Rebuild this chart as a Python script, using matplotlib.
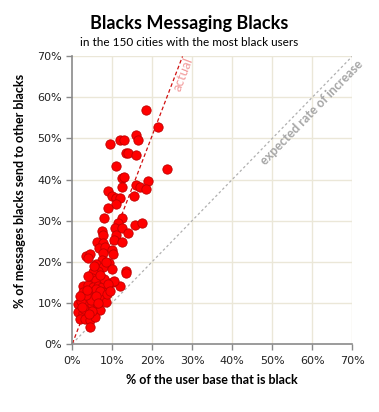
import numpy as np
import matplotlib
matplotlib.use('Agg')
import matplotlib.pyplot as plt
from matplotlib.ticker import FuncFormatter

# share of user base that is black (%)
pct_users = [18.4, 21.5, 23.8, 9.4, 11.9, 12.9, 15.8, 16.5, 13.3, 14.0,
             16.0, 10.9, 12.5, 12.9, 12.5, 18.8, 16.0, 17.0, 18.4, 8.8,
             10.0, 11.0, 11.9, 15.4, 10.9, 8.8, 7.9, 12.3, 11.5, 10.6,
             12.5, 15.6, 17.5, 7.3, 10.9, 14.0, 7.7, 6.2, 7.7, 10.4,
             12.3, 6.7, 8.1, 10.0, 7.7, 10.2, 3.4, 4.4, 4.0, 7.3,
             6.0, 9.2, 7.7, 9.8, 6.5, 5.2, 13.4, 13.4, 4.8, 6.0,
             8.1, 10.2, 12.0, 2.7, 4.0, 5.2, 6.5, 7.3, 2.7, 4.8,
             6.5, 7.7, 3.1, 4.3, 5.6, 7.3, 8.4, 1.5, 3.1, 4.8,
             6.5, 7.0, 1.5, 2.7, 4.0, 5.2, 1.9, 3.1, 4.3, 5.6,
             4.4, 10.5, 2.2, 3.6, 5.8, 6.9, 8.6, 3.0, 5.0, 6.2,
             7.9, 2.4, 3.8, 5.4, 6.8, 8.9, 4.6, 3.3, 5.9, 2.0,
             9.5, 8.3, 4.2, 6.4, 3.7]
# share of messages black users send to other blacks (%)
pct_msgs = [57.0, 52.9, 42.5, 48.6, 49.6, 49.6, 50.9, 49.6, 46.5, 46.5,
            46.0, 43.3, 40.3, 40.5, 38.2, 39.7, 38.7, 38.2, 37.8, 37.3,
            36.0, 35.4, 35.6, 36.0, 34.0, 33.1, 30.5, 30.5, 29.3, 28.3,
            28.3, 28.9, 29.3, 27.5, 26.5, 27.0, 26.5, 24.8, 24.6, 25.2,
            24.8, 23.2, 23.6, 22.8, 22.0, 21.8, 21.3, 21.8, 20.8, 20.4,
            19.3, 19.6, 18.7, 18.1, 17.7, 17.5, 17.7, 17.1, 15.9, 15.5,
            15.2, 15.1, 14.0, 14.0, 14.3, 13.9, 14.0, 13.7, 12.6, 12.5,
            12.4, 12.5, 11.0, 11.3, 10.8, 11.0, 10.2, 9.6, 9.4, 9.4,
            9.0, 8.2, 7.8, 7.4, 7.8, 7.0, 6.1, 6.1, 5.7, 6.6,
            4.1, 15.3, 10.4, 12.0, 13.2, 12.8, 12.2, 8.5, 8.0, 10.0,
            15.8, 9.0, 16.5, 18.8, 16.8, 14.6, 10.6, 11.8, 11.7, 11.5,
            12.9, 20.0, 7.2, 9.8, 13.0]

actual_slope = 2.54   # fitted line
expected_slope = 1.0  # y = x

ticks = np.arange(0, 71, 10)

fig = plt.figure(figsize=(3.79, 4.12), dpi=100)
ax = fig.add_axes([0.191, 0.166, 0.738, 0.697])

grid_c = '#ebe7d8'
for t in ticks[1:]:
    ax.axhline(t, color=grid_c, lw=1, zorder=0)
    ax.axvline(t, color=grid_c, lw=1, zorder=0)

ax.plot([0, 70], [0, 70 * expected_slope], color='#b0b0b0', lw=0.9,
        ls=(0, (2, 2)), zorder=1)
ax.plot([0, 70 / actual_slope], [0, 70], color='#d01010', lw=0.9,
        ls=(0, (3, 2)), zorder=1)

ax.scatter(pct_users, pct_msgs, s=45, color='#ff0000', edgecolor='#c00000',
           linewidth=0.6, zorder=3)

ax.text(27.8, 65.6, 'actual', color='#f29a9a', fontsize=9.5, rotation=69,
        ha='center', va='center', family='Lato')
ax.text(60.0, 56.3, 'expected rate of increase', color='#a6a6a6', fontsize=9,
        rotation=45.7, ha='center', va='center', family='Lato', weight='bold')

ax.set_xlim(0, 70)
ax.set_ylim(0, 70)
ax.set_xticks(ticks)
ax.set_yticks(ticks)
fmt = FuncFormatter(lambda v, p: '%d%%' % v)
ax.xaxis.set_major_formatter(fmt)
ax.yaxis.set_major_formatter(fmt)
for s in ['top', 'right']:
    ax.spines[s].set_visible(False)
for s in ['left', 'bottom']:
    ax.spines[s].set_color('#8a8a8a')
    ax.spines[s].set_linewidth(1.2)
ax.tick_params(colors='#8a8a8a', length=4, width=1, labelcolor='#222222',
               labelsize=8)
ax.tick_params(axis='x', pad=5)

ax.set_xlabel('% of the user base that is black', fontsize=9, weight='bold',
              family='Lato', labelpad=6)
ax.set_ylabel('% of messages blacks send to other blacks', fontsize=9,
              weight='bold', family='Lato', labelpad=5)
ax.yaxis.set_label_coords(-0.165, 0.53)

fig.text(0.5, 0.942, 'Blacks Messaging Blacks', ha='center', va='center',
         fontsize=13, weight='bold', family='Lato')
fig.text(0.5, 0.897, 'in the 150 cities with the most black users',
         ha='center', va='center', fontsize=8.5, family='Lato')

fig.savefig('out.png', dpi=100)
